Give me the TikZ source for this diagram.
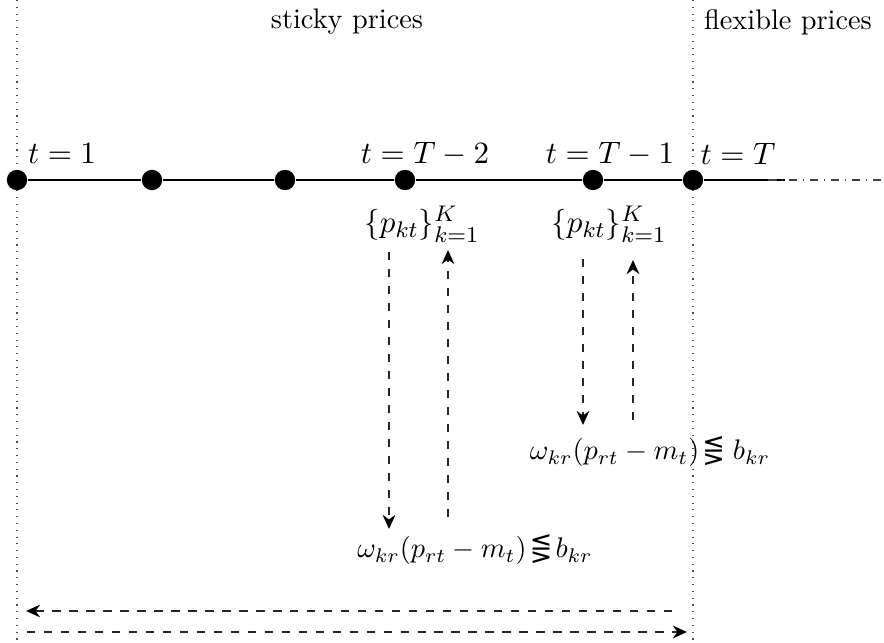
\documentclass[tikz,border=0pt]{standalone}
\usepackage{amsmath,amssymb,graphicx}
\usepackage{fontspec}
\newfontfamily\djv{DejaVu Sans}
\usetikzlibrary{arrows.meta}
\newcommand{\myrel}{\mathrel{\text{\djv\fontsize{9.5}{11}\selectfont ⋚}}}
\begin{document}
\begin{tikzpicture}[x=0.3534pt,y=-0.3534pt,
  dot/.style={circle,fill=black,inner sep=0pt,minimum size=7.2pt},
  lbl/.style={inner sep=0pt,font=\fontsize{11.3}{13}\selectfont},
  eqn/.style={inner sep=0pt,font=\fontsize{10.2}{12}\selectfont},
  txt/.style={inner sep=0pt},
  dashline/.style={dashed,line width=0.45pt,black!85,-{Stealth[length=5pt,width=4.5pt,black]}},
  vdot/.style={dotted,line width=0.4pt,black!70}]
\useasboundingbox (0,0) rectangle (884,643);
% vertical separators
\coordinate (v1t) at (17,0); \coordinate (v1b) at (17,643);
\coordinate (v2t) at (693,0); \coordinate (v2b) at (693,643);
\draw[vdot] (v1t) -- (v1b);
\draw[vdot] (v2t) -- (v2b);
% headings
\node[txt] (sticky) at (347,22) {sticky prices};
\node[txt] (flex) at (788,22) {flexible prices};
% timeline
\node[dot] (d1) at (17,180) {};
\node[dot] (d2) at (152,180) {};
\node[dot] (d3) at (285,180) {};
\node[dot] (d4) at (405,180) {};
\node[dot] (d5) at (593,180) {};
\node[dot] (d6) at (693,180) {};
\coordinate (solidend) at (785,180);
\coordinate (dashstart) at (768,180);
\coordinate (lineend) at (884,180);
\draw[line width=0.4pt] (d1) -- (d2) -- (d3) -- (d4) -- (d5) -- (d6) -- (solidend);
\draw[line width=0.4pt,black!75,dash dot] (dashstart) -- (lineend);
% time labels
\node[lbl] (l1) at (62,154) {$t=1$};
\node[lbl] (l4) at (425,154) {$t=T-2$};
\node[lbl] (l5) at (610,154) {$t=T-1$};
\node[lbl] (l6) at (738,154) {$t=T$};
% price sets
\node[lbl] (p4) at (422,224) {$\{p_{kt}\}_{k=1}^{K}$};
\node[lbl] (p5) at (609,224) {$\{p_{kt}\}_{k=1}^{K}$};
% constraints
\node[eqn] (c4) at (475,550) {$\omega_{kr}(p_{rt}-m_t)\!\myrel\! b_{kr}$};
\node[eqn] (c5) at (650,452) {$\omega_{kr}(p_{rt}-m_t)\!\myrel b_{kr}$};
% vertical arrows
\coordinate (a4s) at (389,252); \coordinate (a4e) at (389,529);
\coordinate (b4s) at (448,517); \coordinate (b4e) at (448,250);
\coordinate (a5s) at (583,259); \coordinate (a5e) at (583,425);
\coordinate (b5s) at (633,420); \coordinate (b5e) at (633,260);
\draw[dashline] (a4s) -- (a4e);
\draw[dashline] (b4s) -- (b4e);
\draw[dashline] (a5s) -- (a5e);
\draw[dashline] (b5s) -- (b5e);
% horizontal arrows
\coordinate (hls) at (672,611); \coordinate (hle) at (26,611);
\coordinate (hrs) at (27,632); \coordinate (hre) at (687,632);
\draw[dashline] (hls) -- (hle);
\draw[dashline] (hrs) -- (hre);
\end{tikzpicture}
\end{document}
